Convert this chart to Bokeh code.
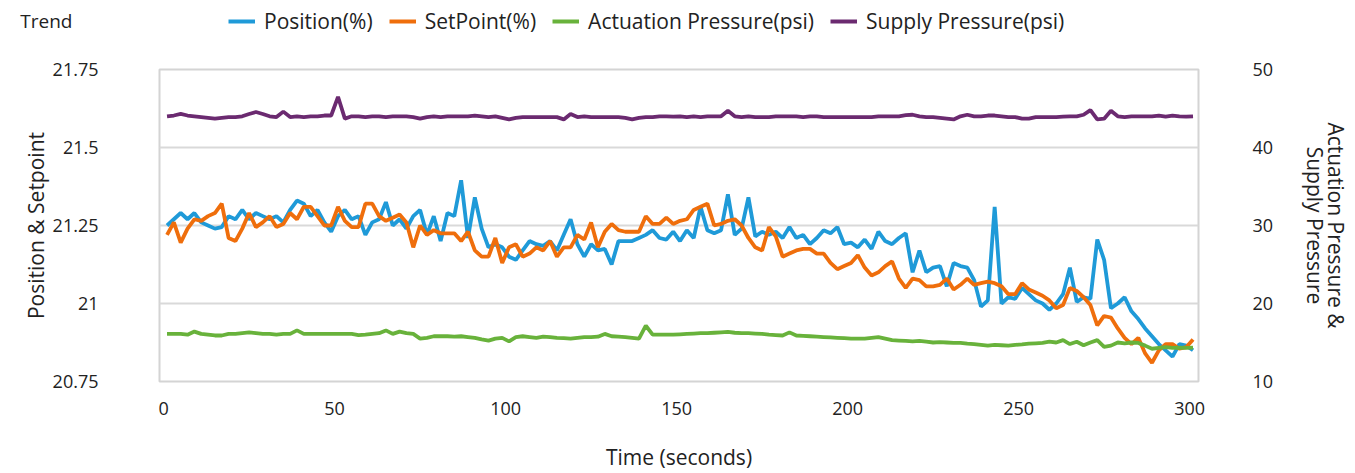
from bokeh.plotting import figure
from bokeh.layouts import column
from bokeh.models import Range1d, LinearAxis, FixedTicker, Legend, LegendItem
from bokeh.embed import file_html
from bokeh.resources import INLINE

# ---------------- data ----------------
time_s = list(range(1, 302, 2))  # sample times (seconds)

position = [
    21.25, 21.27, 21.29, 21.27, 21.29, 21.26, 21.25, 21.24, 21.245, 21.28,
    21.27, 21.30, 21.27, 21.29, 21.28, 21.27, 21.28, 21.26, 21.30, 21.33,
    21.32, 21.28, 21.30, 21.26, 21.23, 21.28, 21.30, 21.27, 21.28, 21.22,
    21.26, 21.27, 21.325, 21.25, 21.27, 21.24, 21.28, 21.30, 21.22, 21.28,
    21.20, 21.29, 21.28, 21.395, 21.21, 21.34, 21.24, 21.18, 21.19, 21.18,
    21.15, 21.14, 21.17, 21.20, 21.19, 21.185, 21.20, 21.17, 21.22, 21.27,
    21.19, 21.15, 21.19, 21.17, 21.175, 21.125, 21.20, 21.20, 21.20, 21.21,
    21.22, 21.235, 21.21, 21.205, 21.23, 21.20, 21.235, 21.21, 21.31, 21.235,
    21.225, 21.235, 21.35, 21.22, 21.24, 21.34, 21.215, 21.23, 21.22, 21.23,
    21.21, 21.245, 21.21, 21.22, 21.19, 21.21, 21.235, 21.225, 21.245, 21.19,
    21.195, 21.18, 21.205, 21.175, 21.23, 21.20, 21.19, 21.21, 21.225, 21.10,
    21.17, 21.10, 21.115, 21.12, 21.055, 21.13, 21.12, 21.115, 21.075, 20.99,
    21.01, 21.31, 21.00, 21.02, 21.015, 21.05, 21.03, 21.01, 21.00, 20.98,
    21.00, 21.03, 21.115, 21.005, 21.02, 21.015, 21.205, 21.14, 20.985, 21.00,
    21.02, 20.975, 20.95, 20.92, 20.895, 20.87, 20.85, 20.83, 20.87, 20.865,
    20.85,
]

setpoint = [
    21.22, 21.26, 21.195, 21.24, 21.27, 21.265, 21.28, 21.29, 21.32, 21.21,
    21.20, 21.24, 21.29, 21.245, 21.26, 21.28, 21.245, 21.255, 21.29, 21.27,
    21.31, 21.31, 21.28, 21.25, 21.25, 21.31, 21.265, 21.245, 21.245, 21.32,
    21.32, 21.28, 21.265, 21.275, 21.285, 21.26, 21.18, 21.25, 21.22, 21.235,
    21.225, 21.225, 21.225, 21.20, 21.23, 21.17, 21.15, 21.15, 21.21, 21.13,
    21.18, 21.19, 21.15, 21.16, 21.18, 21.17, 21.20, 21.15, 21.18, 21.18,
    21.22, 21.205, 21.26, 21.18, 21.23, 21.255, 21.235, 21.23, 21.23, 21.23,
    21.28, 21.255, 21.255, 21.275, 21.255, 21.265, 21.27, 21.30, 21.31, 21.32,
    21.25, 21.255, 21.265, 21.27, 21.25, 21.21, 21.18, 21.17, 21.245, 21.215,
    21.15, 21.16, 21.17, 21.175, 21.175, 21.16, 21.16, 21.13, 21.11, 21.12,
    21.13, 21.155, 21.115, 21.09, 21.10, 21.12, 21.135, 21.08, 21.05, 21.08,
    21.075, 21.055, 21.055, 21.06, 21.08, 21.045, 21.06, 21.08, 21.06, 21.065,
    21.07, 21.065, 21.055, 21.03, 21.03, 21.065, 21.045, 21.035, 21.025, 21.01,
    20.985, 20.995, 21.05, 21.04, 21.02, 20.995, 20.93, 20.96, 20.955, 20.92,
    20.89, 20.87, 20.89, 20.84, 20.81, 20.85, 20.87, 20.87, 20.855, 20.86,
    20.885,
]

actuation_psi = [
    16.1, 16.1, 16.1, 16.0, 16.4, 16.1, 16.0, 15.9, 15.9, 16.1,
    16.1, 16.2, 16.3, 16.2, 16.1, 16.1, 16.0, 16.1, 16.1, 16.55,
    16.1, 16.1, 16.1, 16.1, 16.1, 16.1, 16.1, 16.1, 15.95, 16.0,
    16.1, 16.2, 16.55, 16.1, 16.4, 16.2, 16.1, 15.5, 15.6, 15.8,
    15.8, 15.8, 15.75, 15.8, 15.7, 15.6, 15.4, 15.25, 15.5, 15.6,
    15.15, 15.7, 15.8, 15.7, 15.6, 15.75, 15.7, 15.6, 15.55, 15.5,
    15.6, 15.7, 15.7, 15.75, 16.1, 15.8, 15.75, 15.7, 15.6, 15.5,
    17.15, 16.0, 16.0, 16.0, 16.0, 16.05, 16.1, 16.15, 16.2, 16.2,
    16.25, 16.3, 16.35, 16.25, 16.2, 16.2, 16.15, 16.1, 16.0, 15.95,
    15.9, 16.3, 15.9, 15.85, 15.8, 15.75, 15.7, 15.65, 15.6, 15.55,
    15.5, 15.5, 15.5, 15.6, 15.7, 15.5, 15.3, 15.25, 15.2, 15.15,
    15.2, 15.1, 15.0, 15.05, 15.0, 14.95, 14.95, 14.85, 14.8, 14.7,
    14.6, 14.7, 14.65, 14.6, 14.7, 14.75, 14.85, 14.9, 14.95, 15.1,
    15.0, 15.3, 14.8, 15.1, 14.65, 15.0, 15.3, 14.45, 14.6, 15.0,
    14.9, 15.0, 14.95, 14.6, 14.2, 14.3, 14.4, 14.3, 14.35, 14.3,
    14.35,
]

supply_psi = [
    44.0, 44.1, 44.3, 44.1, 44.0, 43.9, 43.8, 43.7, 43.8, 43.9,
    43.9, 44.0, 44.3, 44.55, 44.3, 44.0, 43.9, 44.6, 43.9, 44.0,
    43.9, 44.0, 44.0, 44.1, 44.1, 46.5, 43.7, 44.0, 44.0, 43.9,
    44.0, 44.0, 43.9, 44.0, 44.0, 44.0, 43.9, 43.7, 43.9, 44.0,
    43.9, 44.0, 44.0, 44.0, 44.0, 44.1, 44.0, 43.9, 44.0, 43.8,
    43.6, 43.8, 43.9, 43.9, 43.9, 43.9, 43.9, 43.9, 43.6, 44.3,
    43.9, 44.0, 43.9, 43.9, 43.9, 43.9, 43.9, 43.8, 43.6, 43.8,
    43.9, 43.9, 44.0, 44.0, 43.95, 44.0, 43.9, 44.0, 43.9, 44.0,
    44.0, 44.0, 44.7, 44.0, 43.9, 44.0, 43.9, 43.9, 43.9, 44.0,
    44.0, 44.0, 44.0, 43.9, 44.0, 44.0, 43.9, 43.9, 43.9, 43.9,
    43.9, 43.9, 43.9, 43.9, 44.0, 44.0, 44.0, 44.0, 44.15, 44.2,
    44.0, 43.9, 43.9, 43.8, 43.7, 43.6, 44.0, 44.2, 44.0, 44.0,
    44.1, 44.1, 44.0, 43.9, 43.9, 43.7, 43.7, 43.9, 43.9, 43.9,
    43.9, 43.95, 44.0, 44.0, 44.2, 44.8, 43.6, 43.7, 44.7, 44.0,
    43.9, 44.0, 44.0, 44.0, 44.0, 44.1, 43.95, 44.1, 44.0, 43.95,
    44.0,
]

series_names = ["Position(%)", "SetPoint(%)", "Actuation Pressure(psi)", "Supply Pressure(psi)"]
series_colors = ["#1f9ad8", "#ef6e0c", "#68b23b", "#6b2a70"]
series_values = [position, setpoint, actuation_psi, supply_psi]

chart_title = "Trend"
x_ticks = [0, 50, 100, 150, 200, 250, 300]
left_ticks = [20.75, 21.0, 21.25, 21.5, 21.75]
left_tick_labels = ["20.75", "21", "21.25", "21.5", "21.75"]
right_ticks = [10, 20, 30, 40, 50]

FONT = "Open Sans"
TXT = "#222222"
W = 1355
HEAD_H = 50
MAIN_H = 423
LW = 3.8


def style_axis(ax):
    ax.axis_line_color = None
    ax.major_tick_line_color = None
    ax.minor_tick_line_color = None
    ax.major_tick_out = 0
    ax.major_tick_in = 0
    ax.minor_tick_out = 0
    ax.minor_tick_in = 0
    ax.major_label_text_font = FONT
    ax.major_label_text_font_size = "18px"
    ax.major_label_text_color = TXT
    ax.axis_label_text_font = FONT
    ax.axis_label_text_font_size = "21px"
    ax.axis_label_text_font_style = "normal"
    ax.axis_label_text_color = TXT


# ---------------- header: title + legend ----------------
# (series are drawn here too but fall outside this strip's 0..1 range; they only feed the legend swatches)
hp = figure(width=W, height=HEAD_H, output_backend="svg", toolbar_location=None,
            x_range=Range1d(-1.2, 302.6), y_range=Range1d(0, 1),
            min_border_left=159, min_border_right=157, min_border_top=0, min_border_bottom=0)
hp.outline_line_color = None
hp.grid.visible = False
hp.xaxis.visible = False
hya = hp.yaxis[0]
style_axis(hya)
hya.ticker = FixedTicker(ticks=[0.6])
hya.major_label_overrides = {0.6: chart_title}
hya.major_label_text_font_size = "19px"
hya.major_label_standoff = 87

head_renderers = [hp.line(time_s, v, color=c, line_width=4)
                  for v, c in zip(series_values, series_colors)]
legend = Legend(items=[LegendItem(label=n, renderers=[r]) for n, r in zip(series_names, head_renderers)],
                orientation="horizontal", location=(69, 15),
                border_line_color=None, background_fill_alpha=0,
                padding=0, margin=0, spacing=16, glyph_width=27, glyph_height=20,
                label_standoff=9, label_text_font=FONT, label_text_font_size="21px",
                label_text_color=TXT)
hp.add_layout(legend)

# ---------------- main chart ----------------
p = figure(width=W, height=MAIN_H, output_backend="svg", toolbar_location=None,
           x_range=Range1d(-1.2, 302.6), y_range=Range1d(20.75, 21.75),
           min_border_left=159, min_border_right=157, min_border_top=19, min_border_bottom=91)
p.extra_y_ranges = {"psi": Range1d(10, 50)}

p.outline_line_color = "#d4d4d4"
p.outline_line_width = 2
p.xgrid.visible = False
p.ygrid.ticker = FixedTicker(ticks=left_ticks)
p.ygrid.grid_line_color = "#d9d9d9"
p.ygrid.grid_line_width = 2

p.line(time_s, position, color=series_colors[0], line_width=LW)
p.line(time_s, setpoint, color=series_colors[1], line_width=LW)
p.line(time_s, actuation_psi, color=series_colors[2], line_width=LW, y_range_name="psi")
p.line(time_s, supply_psi, color=series_colors[3], line_width=LW, y_range_name="psi")

xa = p.xaxis[0]
style_axis(xa)
xa.ticker = FixedTicker(ticks=x_ticks)
xa.axis_label = "Time (seconds)"
xa.major_label_standoff = 20
xa.axis_label_standoff = 25

ya = p.yaxis[0]
style_axis(ya)
ya.ticker = FixedTicker(ticks=left_ticks)
ya.major_label_overrides = {t: s for t, s in zip(left_ticks, left_tick_labels)}
ya.axis_label = "Position & Setpoint"
ya.major_label_standoff = 61
ya.axis_label_standoff = 0

ra = LinearAxis(y_range_name="psi", ticker=FixedTicker(ticks=right_ticks))
style_axis(ra)
ra.axis_label = "Actuation Pressure &\nSupply Pressure"
ra.axis_label_text_line_height = 0.75
ra.major_label_standoff = 54
ra.axis_label_standoff = 25
p.add_layout(ra, "right")

layout = column(hp, p, spacing=0)
open("out.html", "w").write(file_html(layout, INLINE))
